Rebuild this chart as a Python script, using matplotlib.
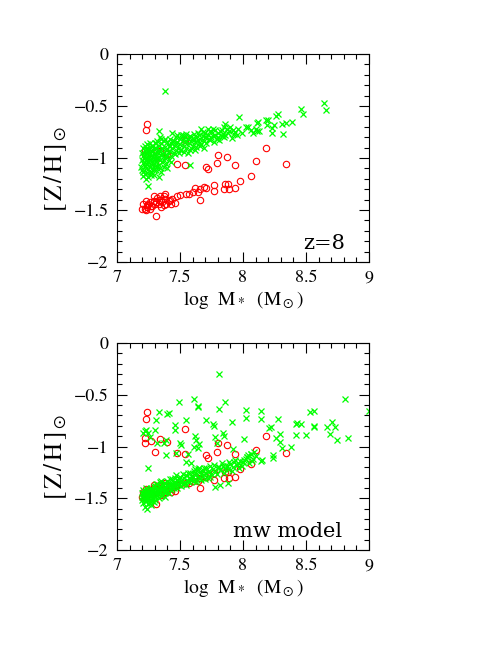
import matplotlib
matplotlib.use('Agg')
import matplotlib.pyplot as plt
from matplotlib.ticker import MultipleLocator

plt.rcParams['font.family'] = ['STIXGeneral', 'DejaVu Serif']
plt.rcParams['mathtext.fontset'] = 'stix'

# red circles: same objects in both panels
red_x = [7.23, 7.24, 7.22, 7.22, 7.27, 7.34, 7.40, 7.30, 7.54,
         7.48, 7.54, 7.71, 7.72, 7.79, 7.80, 7.87, 7.94, 8.10, 8.18, 8.34,
         8.06, 7.98, 7.94, 7.88, 7.89, 7.85, 7.86, 7.77, 7.77, 7.71, 7.69,
         7.66, 7.66, 7.64, 7.62, 7.60, 7.57, 7.55, 7.50, 7.48, 7.46, 7.44,
         7.41, 7.38, 7.38, 7.35, 7.34, 7.33, 7.31, 7.30, 7.29, 7.31, 7.26,
         7.24, 7.23, 7.22, 7.20, 7.23, 7.25, 7.27, 7.35, 7.37, 7.39, 7.43,
         7.42, 7.33, 7.29, 7.37, 7.21, 7.24, 7.26, 7.28, 7.32, 7.36]
red_y = [-0.73, -0.67, -0.92, -0.97, -0.95, -0.93, -0.96, -1.05, -0.83,
         -1.06, -1.07, -1.085, -1.11, -1.05, -0.97, -0.99, -1.07, -1.03, -0.90, -1.06,
         -1.17, -1.22, -1.29, -1.25, -1.30, -1.30, -1.25, -1.26, -1.32, -1.29, -1.28,
         -1.30, -1.40, -1.33, -1.29, -1.33, -1.35, -1.35, -1.36, -1.37, -1.43, -1.39,
         -1.41, -1.35, -1.39, -1.40, -1.37, -1.40, -1.42, -1.44, -1.41, -1.56, -1.49,
         -1.45, -1.41, -1.49, -1.49, -1.50, -1.44, -1.46, -1.47, -1.45, -1.44, -1.44,
         -1.40, -1.44, -1.37, -1.37, -1.44, -1.47, -1.42, -1.46, -1.38, -1.42]

# green crosses, z=8 panel
top_gx = [7.19, 7.20, 7.20, 7.20, 7.21, 7.21, 7.21, 7.21, 7.21, 7.22, 7.22, 7.22,
          7.22, 7.22, 7.23, 7.23, 7.23, 7.23, 7.23, 7.24, 7.24, 7.24, 7.24, 7.24,
          7.25, 7.25, 7.25, 7.25, 7.25, 7.26, 7.26, 7.26, 7.26, 7.26, 7.27, 7.27,
          7.27, 7.27, 7.28, 7.28, 7.28, 7.28, 7.29, 7.29, 7.29, 7.29, 7.30, 7.30,
          7.30, 7.30,
          7.31, 7.31, 7.31, 7.31, 7.32, 7.32, 7.32, 7.33, 7.33, 7.33, 7.33, 7.33,
          7.34, 7.34, 7.34, 7.35, 7.35, 7.35, 7.36, 7.36, 7.37, 7.37, 7.37, 7.38,
          7.38, 7.38, 7.39, 7.39, 7.40, 7.40, 7.41, 7.41, 7.42, 7.42, 7.43, 7.43,
          7.44, 7.44, 7.45, 7.45,
          7.46, 7.47, 7.47, 7.48, 7.49, 7.50, 7.50, 7.51, 7.51, 7.52, 7.53, 7.54,
          7.54, 7.55, 7.55, 7.56, 7.57, 7.58, 7.58, 7.58, 7.59, 7.60, 7.60, 7.61,
          7.62, 7.63, 7.63, 7.64, 7.65, 7.65,
          7.66, 7.67, 7.67, 7.68, 7.69, 7.70, 7.70, 7.71, 7.72, 7.73, 7.74, 7.75,
          7.75, 7.76, 7.77, 7.78, 7.79, 7.80, 7.81, 7.82, 7.83, 7.84, 7.85, 7.85,
          7.86, 7.87, 7.88, 7.89, 7.91, 7.92, 7.94, 7.95, 7.97, 7.99, 8.02, 8.06,
          8.10, 8.11, 8.12, 8.11, 8.13,
          8.18, 8.20, 8.19, 8.23, 8.23, 8.25, 8.26, 8.28, 8.31, 8.34, 8.39, 8.32,
          8.46, 8.48, 8.64, 8.66,
          7.22, 7.23, 7.24, 7.25, 7.26, 7.27, 7.28, 7.29, 7.30, 7.31, 7.32, 7.33,
          7.34, 7.35, 7.36, 7.37, 7.38, 7.39, 7.40, 7.41, 7.42, 7.43, 7.44, 7.46,
          7.47, 7.48, 7.49, 7.50, 7.52, 7.53, 7.55, 7.56, 7.57, 7.59, 7.61, 7.62,
          7.64, 7.66, 7.68, 7.69, 7.71, 7.72, 7.74, 7.76, 7.78, 7.80, 7.83, 7.86,
          7.90, 7.93, 7.96, 8.04, 8.08]
top_gy = [-1.09, -0.95, -1.02, -1.12, -0.90, -0.98, -1.05, -1.13, -1.17, -0.88, -0.93, -1.00,
          -1.08, -1.15, -0.91, -0.97, -1.03, -1.10, -1.20, -0.87, -0.95, -1.01, -1.06, -1.14,
          -0.92, -0.99, -1.04, -1.18, -1.27, -0.89, -0.96, -1.02, -1.09, -1.13, -0.93, -1.00,
          -1.06, -1.13, -0.88, -0.97, -1.03, -1.10, -0.91, -0.99, -1.05, -1.16, -0.86, -0.95,
          -1.01, -1.08,
          -0.90, -0.98, -1.04, -1.12, -0.84, -0.94, -1.00, -0.74, -0.88, -0.99, -1.07, -1.18,
          -0.80, -0.93, -1.02, -0.86, -0.97, -1.13, -0.90, -1.04, -0.84, -0.95, -1.09, -0.36,
          -0.89, -1.00, -0.92, -1.06, -0.85, -0.97, -0.88, -1.02, -0.82, -0.93, -0.86, -0.98,
          -0.76, -0.90, -0.84, -0.95,
          -0.88, -0.80, -0.92, -0.85, -0.90, -0.82, -0.87, -0.78, -0.92, -0.83, -0.88, -0.80,
          -0.85, -0.77, -0.90, -0.82, -0.86, -0.79, -0.92, -1.07, -0.84, -0.81, -0.88, -0.77,
          -0.85, -0.80, -0.89, -0.83, -0.78, -0.86,
          -0.82, -0.72, -0.87, -0.79, -0.84, -0.76, -0.80, -0.86, -0.78, -0.82, -0.74, -0.75,
          -0.80, -0.72, -0.85, -0.78, -0.82, -0.76, -0.83, -0.74, -0.79, -0.77, -0.80, -0.70,
          -0.67, -0.72, -0.76, -0.74, -0.81, -0.73, -0.75, -0.78, -0.61, -0.76, -0.70, -0.73,
          -0.72, -0.66, -0.65, -0.74, -0.74,
          -0.63, -0.63, -0.68, -0.71, -0.76, -0.68, -0.60, -0.58, -0.67, -0.66, -0.65, -0.77,
          -0.53, -0.58, -0.47, -0.54,
          -0.96, -1.06, -0.90, -1.11, -0.86, -1.16, -0.93, -1.12, -0.90, -0.86, -1.08, -0.92,
          -1.10, -0.82, -0.96, -1.02, -0.82, -0.98, -1.10, -0.93, -0.88, -1.04, -0.84, -0.96,
          -0.86, -0.78, -0.95, -0.92, -0.78, -0.94, -0.84, -0.95, -0.80, -0.90, -0.83, -0.92,
          -0.76, -0.88, -0.75, -0.90, -0.80, -0.72, -0.83, -0.79, -0.73, -0.80, -0.73, -0.78,
          -0.70, -0.77, -0.72, -0.70, -0.76]

# green crosses, mw model panel
bot_gx = [7.20, 7.20, 7.21, 7.21, 7.21, 7.22, 7.22, 7.22, 7.23, 7.23, 7.23, 7.24,
          7.24, 7.24, 7.25, 7.25, 7.25, 7.26, 7.26, 7.26, 7.27, 7.27, 7.27, 7.28,
          7.28, 7.28, 7.29, 7.29, 7.29, 7.30, 7.30, 7.30,
          7.31, 7.31, 7.32, 7.32, 7.33, 7.33, 7.34, 7.34, 7.35, 7.35, 7.36, 7.36,
          7.37, 7.37, 7.38, 7.38, 7.39, 7.40, 7.40, 7.41, 7.42, 7.42, 7.43, 7.44,
          7.45, 7.46, 7.46, 7.47, 7.48, 7.49, 7.50, 7.50,
          7.51, 7.52, 7.53, 7.54, 7.55, 7.56, 7.57, 7.58, 7.59, 7.60, 7.61, 7.62,
          7.63, 7.64, 7.65, 7.66, 7.67, 7.68, 7.69, 7.70, 7.71, 7.72, 7.73, 7.75,
          7.76, 7.78, 7.78, 7.80, 7.82, 7.88,
          7.82, 7.84, 7.85, 7.87, 7.88, 7.90, 7.92, 7.93, 7.95, 7.97, 7.98, 8.00,
          8.02, 8.03, 8.05, 8.06, 8.08, 8.10,
          7.20, 7.21, 7.22, 7.23, 7.24, 7.25, 7.26, 7.27, 7.28, 7.29, 7.30, 7.31,
          7.32, 7.33, 7.34, 7.35, 7.36, 7.37, 7.38, 7.39, 7.40, 7.41, 7.42, 7.43,
          7.44, 7.45, 7.46, 7.47, 7.48, 7.49, 7.51, 7.52, 7.53, 7.55, 7.56, 7.57,
          7.58, 7.60, 7.61, 7.62, 7.63, 7.65, 7.66, 7.67, 7.69, 7.70, 7.72, 7.74,
          7.74, 7.77, 7.79, 7.81, 7.83, 7.86, 7.89, 7.91, 7.94, 7.96, 7.99, 8.01,
          8.04, 8.07, 8.09,
          7.81, 7.49, 7.61, 7.64, 7.64, 7.86, 7.81, 7.33, 7.40, 7.41, 7.31, 7.55,
          7.71, 7.76, 7.77, 7.91, 8.02, 8.02, 8.14, 8.14, 8.28, 8.22, 8.21, 8.29,
          8.29, 8.26, 8.31, 8.38, 8.24, 8.24, 8.15, 8.14, 8.06, 8.01, 7.92, 7.84,
          7.85, 7.78, 7.79, 7.63, 7.65, 7.64, 7.61, 7.62, 7.50, 7.51, 7.47, 7.46,
          7.46, 7.39, 7.37, 7.32, 7.26, 7.25, 7.22, 7.23, 7.21, 7.30, 7.25, 7.39,
          7.55, 7.59, 7.56, 7.95, 8.00, 8.03, 7.87,
          8.42, 8.43, 8.46, 8.42, 8.50, 8.53, 8.56, 8.56, 8.56, 8.67, 8.69, 8.71,
          8.73, 8.75, 8.83, 8.81, 9.00]
bot_gy = [-1.45, -1.52, -1.48, -1.55, -1.42, -1.50, -1.44, -1.58, -1.47, -1.53, -1.40, -1.49,
          -1.45, -1.60, -1.43, -1.51, -1.56, -1.46, -1.41, -1.53, -1.48, -1.44, -1.57, -1.42,
          -1.50, -1.46, -1.39, -1.47, -1.54, -1.43, -1.49, -1.38,
          -1.45, -1.40, -1.47, -1.36, -1.42, -1.50, -1.38, -1.44, -1.33, -1.41, -1.46, -1.37,
          -1.40, -1.43, -1.35, -1.45, -1.39, -1.33, -1.42, -1.37, -1.40, -1.31, -1.36, -1.39,
          -1.34, -1.30, -1.38, -1.35, -1.32, -1.37, -1.34, -1.29,
          -1.32, -1.36, -1.30, -1.34, -1.28, -1.33, -1.30, -1.26, -1.32, -1.29, -1.24, -1.31,
          -1.27, -1.22, -1.29, -1.25, -1.32, -1.23, -1.28, -1.26, -1.21, -1.30, -1.24, -1.27,
          -1.22, -1.39, -1.25, -1.20, -1.37, -1.35,
          -1.23, -1.19, -1.26, -1.19, -1.22, -1.17, -1.20, -1.15, -1.18, -1.21, -1.14, -1.15,
          -1.12, -1.10, -1.16, -1.07, -1.12, -1.09,
          -1.49, -1.45, -1.53, -1.43, -1.52, -1.47, -1.55, -1.40, -1.53, -1.44, -1.52, -1.36,
          -1.43, -1.46, -1.34, -1.48, -1.41, -1.35, -1.49, -1.44, -1.37, -1.45, -1.35, -1.42,
          -1.31, -1.40, -1.35, -1.28, -1.40, -1.31, -1.38, -1.27, -1.35, -1.37, -1.26, -1.34,
          -1.30, -1.33, -1.27, -1.22, -1.34, -1.21, -1.30, -1.27, -1.21, -1.31, -1.25, -1.19,
          -1.29, -1.18, -1.27, -1.20, -1.16, -1.22, -1.15, -1.24, -1.13, -1.16, -1.19, -1.13,
          -1.08, -1.14, -1.05,
          -0.30, -0.57, -0.54, -0.61, -0.62, -0.57, -0.64, -0.67, -0.69, -0.68, -0.74, -0.74,
          -0.74, -0.78, -0.80, -0.76, -0.65, -0.72, -0.66, -0.73, -0.73, -0.81, -0.82, -0.88,
          -0.96, -0.92, -1.01, -1.00, -1.11, -1.08, -1.13, -1.14, -1.07, -0.93, -1.02, -0.87,
          -0.90, -0.91, -0.97, -0.94, -0.98, -1.01, -1.00, -0.90, -0.97, -0.99, -1.06, -0.84,
          -0.79, -0.94, -0.97, -0.97, -0.91, -0.87, -0.85, -0.84, -0.87, -0.84, -1.21, -1.08,
          -1.15, -1.16, -1.07, -1.18, -1.15, -1.10, -1.19,
          -0.78, -0.77, -0.78, -0.89, -0.89, -0.67, -0.66, -0.81, -0.80, -0.81, -0.88, -0.76,
          -0.81, -0.94, -0.92, -0.54, -0.66]

xticks = [7, 7.5, 8, 8.5, 9]
xticklabels = ['7', '7.5', '8', '8.5', '9']
yticks = [0, -0.5, -1, -1.5, -2]
yticklabels = ['0', '\u22120.5', '\u22121', '\u22121.5', '\u22122']

fig = plt.figure(figsize=(4.85, 6.45), dpi=100)
ax_top = fig.add_axes([0.2412, 0.5938, 0.5196, 0.3225])
ax_bot = fig.add_axes([0.2412, 0.1473, 0.5196, 0.3209])

panels = [(ax_top, top_gx, top_gy, 'z=8', 0.82),
          (ax_bot, bot_gx, bot_gy, 'mw model', 0.675)]

for ax, gx, gy, tag, tag_x in panels:
    ax.plot(red_x, red_y, 'o', ms=4.6, mfc='none', mec='red', mew=0.8)
    ax.plot(gx, gy, 'x', ms=3.8, color='lime', mew=0.9)
    ax.set_xlim(7, 9)
    ax.set_ylim(-2, 0)
    ax.set_xticks(xticks)
    ax.set_xticklabels(xticklabels)
    ax.set_yticks(yticks)
    ax.set_yticklabels(yticklabels)
    ax.xaxis.set_minor_locator(MultipleLocator(0.1))
    ax.yaxis.set_minor_locator(MultipleLocator(0.1))
    ax.tick_params(which='both', direction='in', top=True, right=True,
                   labelsize=13, width=0.8)
    ax.tick_params(which='major', length=7, pad=6)
    ax.tick_params(which='minor', length=3.5)
    for sp in ax.spines.values():
        sp.set_linewidth(0.8)
    ax.set_xlabel(r'log  M$_*$  (M$_\odot$)', fontsize=14, labelpad=2)
    ax.set_ylabel(r'$[\,\mathrm{Z}\,/\,\mathrm{H}\,]_\odot$', fontsize=18)
    ax.yaxis.set_label_coords(-0.19, 0.45)
    ax.text(tag_x, 0.09, tag, transform=ax.transAxes, fontsize=15,
            family='DejaVu Serif', ha='center', va='center')

fig.savefig('out.png', dpi=100)
